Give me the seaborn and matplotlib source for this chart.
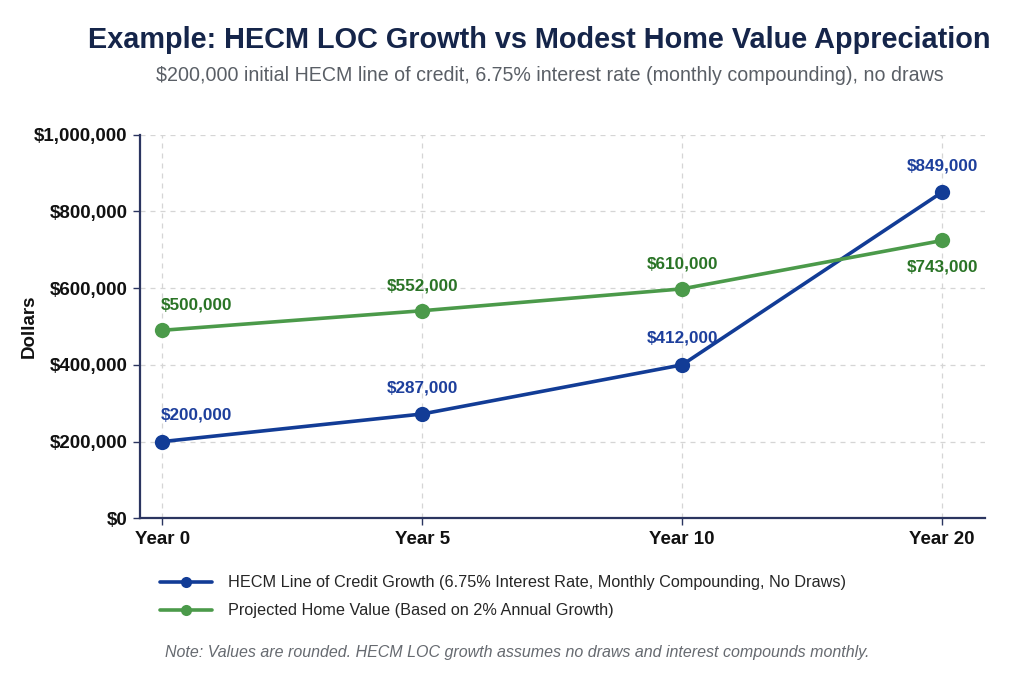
import matplotlib
matplotlib.use("Agg")
import matplotlib.pyplot as plt
import seaborn as sns
import pandas as pd
from matplotlib.ticker import FuncFormatter

# ---- data ----
years = ["Year 0", "Year 5", "Year 10", "Year 20"]
hecm_values = [200000, 272000, 400000, 850000]
home_values = [490000, 541000, 598000, 724000]
hecm_labels = ["$200,000", "$287,000", "$412,000", "$849,000"]
home_labels = ["$500,000", "$552,000", "$610,000", "$743,000"]
hecm_name = "HECM Line of Credit Growth (6.75% Interest Rate, Monthly Compounding, No Draws)"
home_name = "Projected Home Value (Based on 2% Annual Growth)"

sns.set_theme(style="white")
plt.rcParams["font.family"] = ["Liberation Sans", "DejaVu Sans"]

blue = "#123c96"
green = "#4b9a4a"
blue_txt = "#1d3f9c"
green_txt = "#2a7426"
navy = "#2b3560"

df = pd.DataFrame({
    "pos": list(range(len(years))) * 2,
    "value": hecm_values + home_values,
    "series": [hecm_name] * len(years) + [home_name] * len(years),
})

fig = plt.figure(figsize=(10.24, 6.83), dpi=100)
ax = fig.add_axes([0.1367, 0.241, 0.8253, 0.562])

sns.lineplot(data=df, x="pos", y="value", hue="series",
             palette={hecm_name: blue, home_name: green},
             marker="o", markersize=11, markeredgewidth=0, linewidth=2.6,
             ax=ax, legend=False)

ax.set_xlim(-0.085, 3.165)
ax.set_ylim(0, 1000000)
ax.set_xticks(range(len(years)))
ax.set_xticklabels(years)
ax.set_yticks(range(0, 1000001, 200000))
ax.yaxis.set_major_formatter(FuncFormatter(lambda v, p: f"${v:,.0f}"))
ax.tick_params(axis="both", labelsize=13.5, length=5, color=navy, width=1, pad=4)
for lab in ax.get_xticklabels() + ax.get_yticklabels():
    lab.set_fontweight("bold")
    lab.set_color("#111111")
ax.tick_params(axis="x", bottom=True)
ax.tick_params(axis="y", left=True)
ax.set_xlabel("")
ax.set_ylabel("Dollars", fontsize=13.5, fontweight="bold", color="#111111")
ax.yaxis.set_label_coords(-0.121, 0.5)

ax.grid(True, linestyle=(0, (4, 4)), color="#d5d5d5", linewidth=0.9)
ax.set_axisbelow(True)
for s in ["top", "right"]:
    ax.spines[s].set_visible(False)
for s in ["left", "bottom"]:
    ax.spines[s].set_color(navy)
    ax.spines[s].set_linewidth(1.6)

# data labels
for i, (v, t) in enumerate(zip(hecm_values, hecm_labels)):
    ha = "left" if i == 0 else "center"
    ax.annotate(t, (i, v), xytext=(0 if i else -1, 19), textcoords="offset points",
                ha=ha, va="center", fontsize=12.3, fontweight="bold", color=blue_txt)
for i, (v, t) in enumerate(zip(home_values, home_labels)):
    ha = "left" if i == 0 else "center"
    dy = -19 if i == len(years) - 1 else 18
    ax.annotate(t, (i, v), xytext=(0 if i else -1, dy), textcoords="offset points",
                ha=ha, va="center", fontsize=12.3, fontweight="bold", color=green_txt)

# titles
fig.text(0.527, 0.942, "Example: HECM LOC Growth vs Modest Home Value Appreciation",
         ha="center", va="center", fontsize=20.8, fontweight="bold", color="#15254a")
fig.text(0.537, 0.889, "$200,000 initial HECM line of credit, 6.75% interest rate (monthly compounding), no draws",
         ha="center", va="center", fontsize=14.1, color="#5a5f66")

# legend
handles = [plt.Line2D([], [], color=blue, marker="o", markersize=8, linewidth=2.6, markeredgewidth=0),
           plt.Line2D([], [], color=green, marker="o", markersize=8, linewidth=2.6, markeredgewidth=0)]
fig.legend(handles, [hecm_name, home_name], loc="upper left",
           bbox_to_anchor=(0.150, 0.167), frameon=False, fontsize=11.7,
           handlelength=3.2, handletextpad=0.95, labelspacing=0.8, borderaxespad=0)

fig.text(0.505, 0.044, "Note: Values are rounded. HECM LOC growth assumes no draws and interest compounds monthly.",
         ha="center", va="center", fontsize=11.5, style="italic", color="#666a70")

fig.savefig("out.png", dpi=100, facecolor="white")
